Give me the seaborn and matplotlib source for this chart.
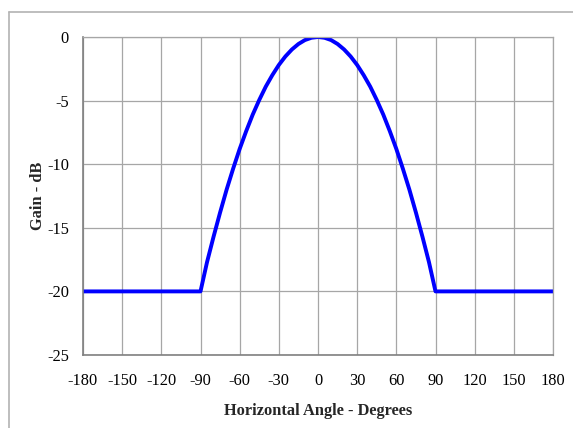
import matplotlib
matplotlib.use("Agg")
import matplotlib.pyplot as plt
from matplotlib.lines import Line2D
import seaborn as sns
import pandas as pd

# Horizontal angle (degrees) and gain (dB)
angles = [-180, -90, -85, -80, -75, -70, -65, -60, -55, -50, -45, -40, -35, -30,
          -25, -20, -15, -10, -5, 0, 5, 10, 15, 20, 25, 30, 35, 40, 45, 50, 55,
          60, 65, 70, 75, 80, 85, 90, 180]
gain = [-20.0, -20.0, -17.7, -15.7, -13.8, -12.0, -10.35, -8.8, -7.4, -6.1, -4.95,
        -3.9, -3.0, -2.2, -1.53, -0.98, -0.55, -0.24, -0.06, 0.0, -0.06, -0.24,
        -0.55, -0.98, -1.53, -2.2, -3.0, -3.9, -4.95, -6.1, -7.4, -8.8, -10.35,
        -12.0, -13.8, -15.7, -17.7, -20.0, -20.0]
x_ticks = list(range(-180, 181, 30))
y_ticks = [0, -5, -10, -15, -20, -25]

df = pd.DataFrame({"angle": angles, "gain": gain})

sns.set_theme(style="white")
plt.rcParams["font.family"] = ["Liberation Serif", "DejaVu Serif"]

fig = plt.figure(figsize=(5.73, 4.28), dpi=100)
ax = fig.add_axes([83 / 573, 1 - 355 / 428, (553 - 83) / 573, (355 - 37) / 428])

sns.lineplot(data=df, x="angle", y="gain", ax=ax, color="#0000FF", linewidth=2.8,
             sort=False, solid_joinstyle="round", solid_capstyle="butt")

ax.set_xlim(-180, 180)
ax.set_ylim(-25, 0)
ax.set_xticks(x_ticks)
ax.set_yticks(y_ticks)
ax.set_xticklabels([str(t) for t in x_ticks], fontsize=11.8)
ax.set_yticklabels([str(t) for t in y_ticks], fontsize=11.8)
ax.grid(True, color="#a6a6a6", linewidth=0.9)
ax.set_axisbelow(True)
for side in ["top", "right"]:
    ax.spines[side].set_color("#a6a6a6")
    ax.spines[side].set_linewidth(0.9)
for side in ["left", "bottom"]:
    ax.spines[side].set_color("#808080")
    ax.spines[side].set_linewidth(1.2)
ax.tick_params(axis="both", which="major", direction="out", length=4, width=1,
               color="#808080", labelcolor="black", pad=6)
ax.tick_params(axis="x", pad=9)
ax.set_xlabel("Horizontal Angle - Degrees", fontsize=11.8, fontweight="bold", labelpad=10)
ax.set_ylabel("Gain - dB", fontsize=11.8, fontweight="bold", labelpad=1)

# outer chart frame (top and left edges visible)
fig.add_artist(Line2D([9 / 573, 1.0], [1 - 12 / 428, 1 - 12 / 428],
                      transform=fig.transFigure, color="#b3b3b3", linewidth=1.2))
fig.add_artist(Line2D([9 / 573, 9 / 573], [0, 1 - 12 / 428],
                      transform=fig.transFigure, color="#b3b3b3", linewidth=1.2))

fig.savefig("out.png", dpi=100, facecolor="white")
